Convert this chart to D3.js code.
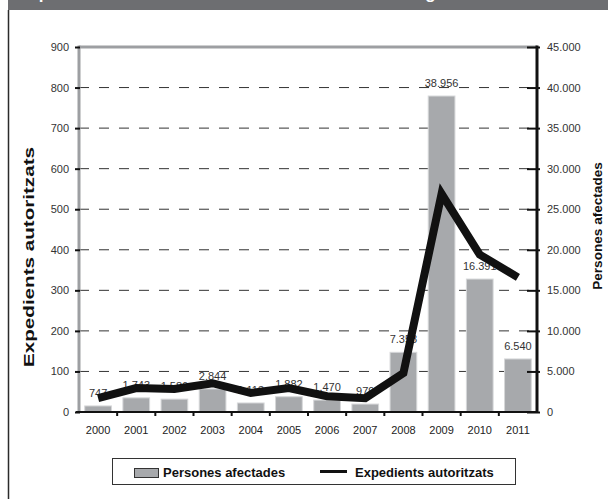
<!DOCTYPE html>
<html><head><meta charset="utf-8">
<script src="https://cdn.jsdelivr.net/npm/d3@7/dist/d3.min.js"></script>
<style>
html,body{margin:0;padding:0;background:#fff;}
svg{display:block;font-family:"Liberation Sans",Arial,sans-serif;}
</style></head>
<body>
<svg id="chart" width="608" height="499"></svg>
<script>
const years = ["2000","2001","2002","2003","2004","2005","2006","2007","2008","2009","2010","2011"];
const persones = [747,1743,1586,2844,1113,1882,1470,979,7358,38956,16391,6540];
const expedients = [34,59,57,71,47,59,39,34,96,538,388,332];
const leftTicks = [0,100,200,300,400,500,600,700,800,900];
const rightTicks = [0,5000,10000,15000,20000,25000,30000,35000,40000,45000];
const titleText = "Expedients autoritzats i treballadors afectats en regulació";
const leftTitle = "Expedients autoritzats";
const rightTitle = "Persones afectades";

const loc = d3.formatLocale({decimal:",", thousands:".", grouping:[3], currency:["",""]});
const fmt = loc.format(",");

const svg = d3.select("#chart");
const L = 79, R = 537, T = 47, B = 412;

// frame & title bar
svg.append("rect").attr("x",8).attr("y",0).attr("width",600).attr("height",10).attr("fill","#6d6e71");
svg.append("text").attr("x",18).attr("y",-1).attr("fill","#fff").attr("font-weight","bold")
  .attr("font-size",17).text(titleText);
svg.append("line").attr("x1",8.5).attr("x2",8.5).attr("y1",10).attr("y2",499)
  .attr("stroke","#2b2b2b").attr("stroke-width",1.5);

const x = d3.scaleBand().domain(years).range([L,R]).paddingInner(0.3).paddingOuter(0.15);
const yL = d3.scaleLinear().domain([0,900]).range([B,T]);
const yR = d3.scaleLinear().domain([0,45000]).range([B,T]);

// gridlines
svg.append("g").selectAll("line").data(leftTicks.filter(d=>d>0 && d<900)).join("line")
  .attr("x1",L).attr("x2",R).attr("y1",d=>yL(d)).attr("y2",d=>yL(d))
  .attr("stroke","#333").attr("stroke-width",1).attr("stroke-dasharray","10,10");

// top border & left axis line (gray)
svg.append("line").attr("x1",L).attr("x2",R).attr("y1",T).attr("y2",T).attr("stroke","#9d9fa2").attr("stroke-width",3);
svg.append("line").attr("x1",L).attr("x2",L).attr("y1",T-1.5).attr("y2",B).attr("stroke","#9d9fa2").attr("stroke-width",3);

// bars
svg.append("g").selectAll("rect").data(years).join("rect")
  .attr("x",d=>x(d)).attr("width",x.bandwidth())
  .attr("y",(d,i)=>yR(persones[i])).attr("height",(d,i)=>B-yR(persones[i]))
  .attr("fill","#a7a9ac").attr("stroke","#d6d7d9").attr("stroke-width",1);

// bar labels
svg.append("g").selectAll("text").data(years).join("text")
  .attr("x",d=>x(d)+x.bandwidth()/2).attr("y",(d,i)=>yR(persones[i])-9)
  .attr("text-anchor","middle").attr("font-size",11).attr("fill","#333")
  .text((d,i)=>fmt(persones[i]));

// line
const line = d3.line().x((d,i)=>x(years[i])+x.bandwidth()/2).y(d=>yL(d));
svg.append("path").datum(expedients).attr("d",line).attr("fill","none")
  .attr("stroke","#111").attr("stroke-width",8).attr("stroke-linejoin","miter");

// right axis
const gR = svg.append("g").attr("transform",`translate(${R},0)`)
  .call(d3.axisRight(yR).tickValues(rightTicks).tickFormat(fmt).tickSize(4).tickPadding(6));
gR.select(".domain").remove();
gR.selectAll(".tick line").attr("x1",-10).attr("x2",3).attr("stroke","#111").attr("stroke-width",2);
gR.selectAll(".tick text").attr("font-size",11).attr("fill","#333").attr("font-family","Liberation Sans, Arial, sans-serif");
svg.append("line").attr("x1",R).attr("x2",R).attr("y1",T-1.5).attr("y2",B+1).attr("stroke","#111").attr("stroke-width",3);

// left axis
const gL = svg.append("g").attr("transform",`translate(${L},0)`)
  .call(d3.axisLeft(yL).tickValues(leftTicks).tickSize(4).tickPadding(6));
gL.select(".domain").remove();
gL.selectAll(".tick line").attr("x1",-4).attr("x2",1).attr("stroke","#111").attr("stroke-width",2);
gL.selectAll(".tick text").attr("font-size",11).attr("fill","#333").attr("font-family","Liberation Sans, Arial, sans-serif");

// bottom axis
svg.append("line").attr("x1",L-3).attr("x2",R).attr("y1",B).attr("y2",B).attr("stroke","#111").attr("stroke-width",2);
const bounds = years.slice(1).map(d=>x(d)-x.step()*x.paddingInner()/2);
svg.append("g").selectAll("line").data(bounds).join("line")
  .attr("x1",d=>d).attr("x2",d=>d).attr("y1",B).attr("y2",B+4).attr("stroke","#111").attr("stroke-width",2);
const gB = svg.append("g").attr("transform",`translate(0,${B})`)
  .call(d3.axisBottom(x).tickSize(0).tickPadding(14));
gB.select(".domain").remove();
gB.selectAll(".tick text").attr("font-size",11).attr("fill","#222").attr("font-family","Liberation Sans, Arial, sans-serif");

// axis titles
svg.append("text").attr("transform","translate(34,257) rotate(-90)").attr("text-anchor","middle")
  .attr("font-weight","bold").attr("font-size",15).attr("fill","#111")
  .attr("textLength",220).attr("lengthAdjust","spacingAndGlyphs").text(leftTitle);
svg.append("text").attr("transform","translate(602,226) rotate(-90)").attr("text-anchor","middle")
  .attr("font-weight","bold").attr("font-size",13.6).attr("fill","#111").text(rightTitle);

// legend
svg.append("rect").attr("x",112.5).attr("y",458.5).attr("width",403).attr("height",26)
  .attr("fill","#fff").attr("stroke","#333").attr("stroke-width",1);
svg.append("rect").attr("x",134.5).attr("y",468.5).attr("width",24).attr("height",9)
  .attr("fill","#a7a9ac").attr("stroke","#333").attr("stroke-width",1);
svg.append("text").attr("x",163).attr("y",477).attr("font-weight","bold").attr("font-size",13).attr("fill","#111").text(rightTitle);
svg.append("line").attr("x1",320).attr("x2",347).attr("y1",471.5).attr("y2",471.5).attr("stroke","#111").attr("stroke-width",3);
svg.append("text").attr("x",355).attr("y",477).attr("font-weight","bold").attr("font-size",13).attr("fill","#111").text(leftTitle);
</script>
</body></html>
